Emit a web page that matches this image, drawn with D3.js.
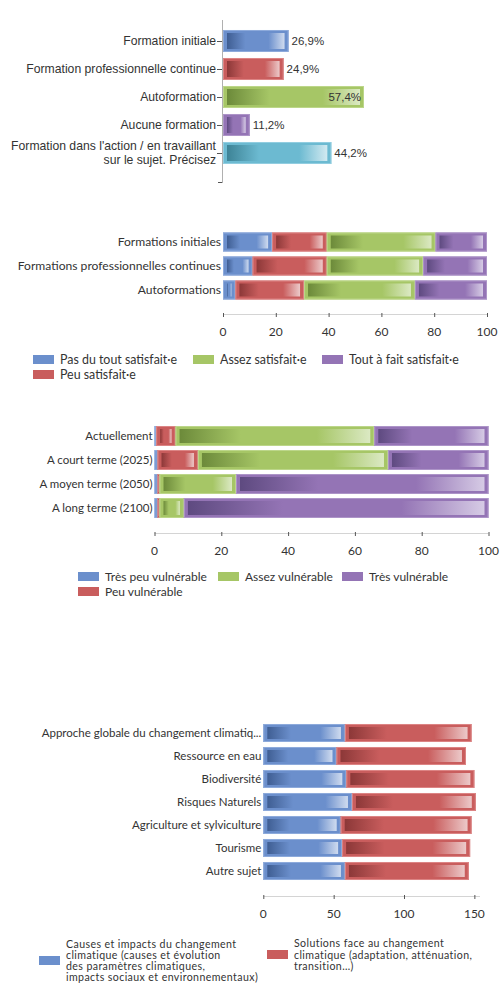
<!DOCTYPE html>
<html><head><meta charset="utf-8">
<script src="https://cdn.jsdelivr.net/npm/d3@7"></script>
<style>body{margin:0;background:#fff}svg{display:block}</style>
</head><body>
<script>
// ---------- DATA ----------
// Chart 1
const cats1 = ["Formation initiale","Formation professionnelle continue","Autoformation","Aucune formation","Formation dans l'action / en travaillant|sur le sujet. Précisez"];
const vals1 = [26.9, 24.9, 57.4, 11.2, 44.2];
const labels1 = ["26,9%","24,9%","57,4%","11,2%","44,2%"];
// Chart 2
const cats2 = ["Formations initiales","Formations professionnelles continues","Autoformations"];
const series2 = ["Pas du tout satisfait·e","Peu satisfait·e","Assez satisfait·e","Tout à fait satisfait·e"];
const pasDuTout = [18.6, 11.2, 4.7];
const peuSatisfait = [20.7, 28.1, 26.0];
const assezSatisfait = [41.2, 36.5, 42.0];
const toutAFait = [19.5, 24.2, 27.3];
const ticks2 = [0, 20, 40, 60, 80, 100];
// Chart 3
const cats3 = ["Actuellement","A court terme (2025)","A moyen terme (2050)","A long terme (2100)"];
const series3 = ["Très peu vulnérable","Peu vulnérable","Assez vulnérable","Très vulnérable"];
const tresPeuV = [0.5, 0.9, 0.9, 0.9];
const peuV = [5.8, 12.1, 0.6, 0.6];
const assezV = [59.5, 56.9, 22.9, 7.3];
const tresV = [34.2, 30.1, 75.6, 91.2];
const ticks3 = [0, 20, 40, 60, 80, 100];
// Chart 4
const cats4 = ["Approche globale du changement climatiq...","Ressource en eau","Biodiversité","Risques Naturels","Agriculture et sylviculture","Tourisme","Autre sujet"];
const series4 = ["Causes et impacts du changement|climatique (causes et évolution|des paramètres climatiques,|impacts sociaux et environnementaux)","Solutions face au changement|climatique (adaptation, atténuation,|transition…)"];
const causes = [58, 52, 59, 63, 55, 56, 58];
const solutions = [90, 92, 91, 88, 93, 91, 88];
const ticks4 = [0, 50, 100, 150];

// ---------- STYLE ----------
const PAL = {
  blue:   {base:"#6b8fcc", dark:"#3f5e93", light:"#cfdbef", edge:"#8eaadb"},
  red:    {base:"#c95d5d", dark:"#8c3838", light:"#ecc9c9", edge:"#dc8585"},
  green:  {base:"#a6c666", dark:"#6c8a3a", light:"#dbe9c3", edge:"#bcd68a"},
  purple: {base:"#9474b5", dark:"#5e4a80", light:"#d6cbe5", edge:"#ad95c8"},
  teal:   {base:"#6cbad1", dark:"#3d8396", light:"#d2eaf1", edge:"#92cde0"}
};
const FONT2 = "Lato, 'Open Sans', sans-serif";
const TXT = "#333";

const W = 500, H = 984;
const svg = d3.select("body").append("svg").attr("width", W).attr("height", H);
const defs = svg.append("defs");
Object.entries(PAL).forEach(([k, c]) => {
  const g = defs.append("linearGradient").attr("id", "g-" + k).attr("x1", 0).attr("x2", 1).attr("y1", 0).attr("y2", 0);
  [[0, c.dark], [0.32, c.base], [0.72, c.base], [1, c.light]].forEach(([o, col]) =>
    g.append("stop").attr("offset", o).attr("stop-color", col));
});

function seg(g, x0, x1, y, h, key) {
  const c = PAL[key];
  const w = x1 - x0;
  if (w <= 0) return;
  g.append("rect").attr("x", x0).attr("y", y).attr("width", w).attr("height", h)
    .attr("fill", c.base);
  g.append("rect").attr("x", x0 + 0.5).attr("y", y + 0.5).attr("width", Math.max(0, w - 1)).attr("height", h - 1)
    .attr("fill", "none").attr("stroke", c.edge).attr("stroke-width", 1);
  const ix = 4, iy = 3;
  if (w > 2 * ix + 1) {
    g.append("rect").attr("x", x0 + ix).attr("y", y + iy).attr("width", w - 2 * ix).attr("height", h - 2 * iy)
      .attr("fill", "url(#g-" + key + ")");
  }
}

// ---------- CHART 1 ----------
{
  const g = svg.append("g");
  const x = d3.scaleLinear().domain([0, d3.max(vals1)]).range([222, 364]);
  const y = d3.scaleBand().domain(cats1).range([27, 167]).paddingInner(0.214).paddingOuter(0.107);
  const cols = ["blue","red","green","purple","teal"];
  g.append("line").attr("x1", 222.5).attr("x2", 222.5).attr("y1", 20).attr("y2", 183).attr("stroke", "#b0b0b0");
  g.append("line").attr("x1", 218).attr("x2", 222).attr("y1", 182.5).attr("y2", 182.5).attr("stroke", "#555");
  cats1.forEach((c, i) => {
    const cy = y(c) + y.bandwidth() / 2;
    seg(g, x(0) + 1, x(vals1[i]), y(c), y.bandwidth(), cols[i]);
    g.append("line").attr("x1", 217).attr("x2", 222).attr("y1", cy + 0.5).attr("y2", cy + 0.5).attr("stroke", "#555");
    const lines = c.split("|");
    const t = g.append("text").attr("x", 216).attr("text-anchor", "end")
      .attr("font-family", "'Liberation Sans', Arial, sans-serif").attr("font-size", 12.2).attr("fill", TXT);
    lines.forEach((l, j) => t.append("tspan").attr("x", 216)
      .attr("y", cy + 4 + (j - (lines.length - 1) / 2) * 14).text(l));
    const inside = vals1[i] === d3.max(vals1);
    g.append("text").attr("x", inside ? x(vals1[i]) - 3 : x(vals1[i]) + 3).attr("y", cy + 4)
      .attr("text-anchor", inside ? "end" : "start")
      .attr("font-family", "'Liberation Sans', Arial, sans-serif").attr("font-size", 11.5).attr("fill", TXT)
      .text(labels1[i]);
  });
}

// ---------- stacked chart helper ----------
function stacked(opt) {
  const g = svg.append("g");
  const x = d3.scaleLinear().domain(opt.domain).range(opt.xr);
  const y = d3.scaleBand().domain(opt.cats).range(opt.yr).paddingInner(opt.pi).paddingOuter(opt.pi / 2);
  opt.cats.forEach((c, i) => {
    let acc = 0;
    opt.series.forEach((s, k) => {
      const v = s[i];
      seg(g, x(acc), x(acc + v), y(c), y.bandwidth(), opt.cols[k]);
      acc += v;
    });
    g.append("text").attr("x", opt.xr[0] - 2).attr("y", y(c) + y.bandwidth() / 2 + 4)
      .attr("text-anchor", "end").attr("font-family", FONT2).attr("font-size", opt.fs).attr("fill", TXT).text(c);
  });
  // axis
  g.append("line").attr("x1", x(0)).attr("x2", opt.axisEnd || x(opt.domain[1])).attr("y1", opt.axisY + 0.5).attr("y2", opt.axisY + 0.5)
    .attr("stroke", "#d4d4d4");
  opt.ticks.forEach(t => {
    g.append("line").attr("x1", x(t) + 0.5).attr("x2", x(t) + 0.5).attr("y1", opt.axisY - 1).attr("y2", opt.axisY + 3)
      .attr("stroke", "#555");
    g.append("text").attr("x", x(t)).attr("y", opt.axisY + 22).attr("text-anchor", "middle")
      .attr("font-family", FONT2).attr("font-size", 12).attr("fill", TXT).text(t);
  });
  return g;
}

function legendItem(x0, y0, key, text, fs, lh, ls) {
  svg.append("rect").attr("x", x0).attr("y", y0).attr("width", 21).attr("height", 9).attr("fill", PAL[key].base);
  const lines = text.split("|");
  const t = svg.append("text").attr("font-family", FONT2).attr("font-size", fs).attr("fill", TXT)
    .attr("letter-spacing", ls || 0);
  lines.forEach((l, j) => t.append("tspan").attr("x", x0 + 27)
    .attr("y", y0 + 8.5 + (j - (lines.length - 1) / 2) * (lh || 11)).text(l));
}

// ---------- CHART 2 ----------
stacked({cats: cats2, series: [pasDuTout, peuSatisfait, assezSatisfait, toutAFait],
  cols: ["blue","red","green","purple"], domain: [0, 100], xr: [223, 487], yr: [230, 302], pi: 0.208,
  axisY: 314, ticks: ticks2, fs: 12.1});
legendItem(33, 355, "blue", series2[0], 12.4);
legendItem(193, 355, "green", series2[2], 12.4);
legendItem(322, 355, "purple", series2[3], 12.4);
legendItem(33, 370, "red", series2[1], 12.4);

// ---------- CHART 3 ----------
stacked({cats: cats3, series: [tresPeuV, peuV, assezV, tresV],
  cols: ["blue","red","green","purple"], domain: [0, 100], xr: [154.5, 488.5], yr: [424, 520], pi: 0.167,
  axisY: 533, ticks: ticks3, fs: 11.5});
legendItem(78, 572, "blue", series3[0], 12);
legendItem(218, 572, "green", series3[2], 12);
legendItem(342, 572, "purple", series3[3], 12);
legendItem(78, 587, "red", series3[1], 12);

// ---------- CHART 4 ----------
stacked({cats: cats4, series: [causes, solutions],
  cols: ["blue","red"], domain: [0, 154], xr: [263.3, 480], yr: [721.5, 882.5], pi: 0.217,
  axisY: 896, ticks: ticks4, fs: 11.5});
legendItem(39, 956, "blue", series4[0], 10.6, 11.3, 0.4);
legendItem(267, 950, "red", series4[1], 10.6, 11.3, 0.4);
</script>
</body></html>
